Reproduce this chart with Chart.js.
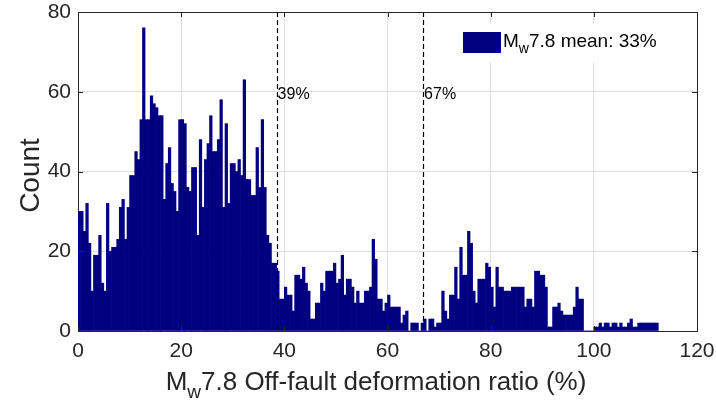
<!DOCTYPE html>
<html>
<head>
<meta charset="utf-8">
<script src="https://cdn.jsdelivr.net/npm/chart.js@4.4.0/dist/chart.umd.min.js"></script>
<style>
  html, body { margin: 0; padding: 0; background: #fff; }
  #wrap { width: 716px; height: 401px; }
</style>
</head>
<body>
<div id="wrap"><canvas id="histChart" width="716" height="401"></canvas></div>
<script>
// histogram of off-fault deformation ratio, 0.5 % bins starting at 0
const binWidth = 0.5;
const binCounts = [
  30, 30, 25, 32, 22, 10, 19, 19, 24, 12,
  10, 32, 20, 21, 21, 23, 31, 33, 23, 31,
  39, 39, 45, 43, 53, 76, 53, 53, 59, 57,
  56, 54, 54, 33, 42, 46, 37, 35, 30, 53,
  53, 52, 36, 35, 41, 41, 24, 48, 31, 43,
  47, 54, 45, 45, 48, 58, 31, 52, 32, 42,
  42, 40, 43, 39, 63, 38, 38, 34, 34, 46,
  36, 53, 36, 24, 22, 17, 17, 15, 8, 8,
  11, 9, 9, 5, 14, 14, 13, 16, 12, 10,
  3, 3, 7, 7, 12, 10, 15, 15, 15, 17,
  12, 13, 19, 9, 13, 13, 11, 7, 10, 7,
  7, 10, 10, 11, 23, 18, 8, 8, 5, 7,
  9, 6, 6, 6, 6, 2, 4, 5, 0, 2,
  2, 2, 0, 2, 3, 0, 3, 3, 1, 2,
  2, 10, 5, 3, 9, 9, 16, 8, 21, 14,
  14, 25, 22, 10, 7, 13, 13, 13, 17, 16,
  11, 6, 16, 11, 11, 10, 10, 10, 11, 11,
  11, 11, 11, 6, 8, 8, 6, 15, 15, 14,
  14, 11, 1, 1, 6, 6, 7, 5, 4, 4,
  4, 4, 6, 11, 8, 8, 0, 0, 0, 0,
  1, 1, 2, 1, 2, 2, 1, 2, 2, 1,
  2, 1, 1, 2, 3, 1, 1, 2, 2, 2,
  2, 2, 2, 2, 2
];
const xTicks = [0, 20, 40, 60, 80, 100, 120];
const yTicks = [0, 20, 40, 60, 80];
const markerValues = [38.5, 66.9];
const meanValue = 33;

const barColor = '#000080';
const axisColor = '#262626';
const gridColor = '#dfdfdf';
const fontFamily = "'Liberation Sans', Arial, Helvetica, sans-serif";

const binCenters = binCounts.map((_, i) => (i + 0.5) * binWidth);
const points = binCenters.map((x, i) => ({ x: x, y: binCounts[i] }));

// draws a run of text pieces, pieces marked sub are lowered and shrunk
function drawRichText(ctx, parts, x, y, size, align) {
  const subSize = Math.round(size * 0.72);
  let total = 0;
  parts.forEach(p => {
    ctx.font = (p.sub ? subSize : size) + 'px ' + fontFamily;
    p.w = ctx.measureText(p.t).width;
    total += p.w;
  });
  let cx = align === 'center' ? x - total / 2 : x;
  ctx.textAlign = 'left';
  ctx.textBaseline = 'alphabetic';
  parts.forEach(p => {
    ctx.font = (p.sub ? subSize : size) + 'px ' + fontFamily;
    ctx.fillText(p.t, cx, p.sub ? y + size * 0.32 : y);
    cx += p.w;
  });
  return total;
}

const decorPlugin = {
  id: 'decor',
  afterDatasetsDraw(chart) {
    const { ctx, scales: { x, y } } = chart;
    ctx.save();
    // percentile markers
    ctx.strokeStyle = '#000';
    ctx.lineWidth = 1.2;
    ctx.setLineDash([5, 3]);
    markerValues.forEach(v => {
      const px = Math.round(x.getPixelForValue(v)) + 0.5;
      ctx.beginPath();
      ctx.moveTo(px, y.getPixelForValue(80));
      ctx.lineTo(px, y.getPixelForValue(0));
      ctx.stroke();
    });
    ctx.setLineDash([]);
    ctx.fillStyle = '#000';
    ctx.font = '16px ' + fontFamily;
    ctx.textAlign = 'left';
    ctx.textBaseline = 'middle';
    markerValues.forEach(v => {
      ctx.fillText(Math.round(v) + '%', x.getPixelForValue(v) + 1, y.getPixelForValue(59.3));
    });
    ctx.restore();
  },
  afterDraw(chart) {
    const { ctx, chartArea: a, scales: { x, y } } = chart;
    ctx.save();
    // box on the top and right sides
    ctx.strokeStyle = axisColor;
    ctx.lineWidth = 1;
    ctx.beginPath();
    ctx.moveTo(a.left, a.top + 0.5);
    ctx.lineTo(a.right + 0.5, a.top + 0.5);
    ctx.lineTo(a.right + 0.5, a.bottom);
    ctx.stroke();
    // inward tick marks on all four sides
    const tl = 5;
    ctx.beginPath();
    xTicks.forEach(v => {
      const px = Math.round(x.getPixelForValue(v)) + 0.5;
      ctx.moveTo(px, a.bottom); ctx.lineTo(px, a.bottom - tl);
      ctx.moveTo(px, a.top); ctx.lineTo(px, a.top + tl);
    });
    yTicks.forEach(v => {
      const py = Math.round(y.getPixelForValue(v)) + 0.5;
      ctx.moveTo(a.left, py); ctx.lineTo(a.left + tl, py);
      ctx.moveTo(a.right, py); ctx.lineTo(a.right - tl, py);
    });
    ctx.stroke();

    // legend
    ctx.fillStyle = '#fff';
    ctx.fillRect(455, 24, 212, 38);
    ctx.fillStyle = barColor;
    ctx.fillRect(463, 32, 38, 21);
    ctx.fillStyle = '#000';
    drawRichText(ctx, [{ t: 'M' }, { t: 'w', sub: true }, { t: '7.8 mean: ' + meanValue + '%' }],
      503, 47, 19, 'left');

    // axis titles
    ctx.fillStyle = axisColor;
    drawRichText(ctx, [{ t: 'M' }, { t: 'w', sub: true }, { t: '7.8 Off-fault deformation ratio (%)' }],
      376, 390, 26, 'center');
    ctx.translate(31, (a.top + a.bottom) / 2 + 4);
    ctx.rotate(-Math.PI / 2);
    ctx.font = '28px ' + fontFamily;
    ctx.textAlign = 'center';
    ctx.textBaseline = 'middle';
    ctx.fillText('Count', 0, 0);
    ctx.restore();
  }
};

new Chart(document.getElementById('histChart').getContext('2d'), {
  type: 'bar',
  data: {
    datasets: [{
      label: 'Mw7.8 mean',
      data: points,
      backgroundColor: barColor,
      borderWidth: 0,
      barPercentage: 1,
      categoryPercentage: 1
    }]
  },
  options: {
    responsive: false,
    animation: false,
    devicePixelRatio: 1,
    layout: { padding: { left: 0, right: 19, top: 12, bottom: 0 } },
    plugins: {
      legend: { display: false },
      tooltip: { enabled: false }
    },
    scales: {
      x: {
        type: 'linear',
        min: 0,
        max: 120,
        offset: false,
        afterBuildTicks(scale) { scale.ticks = xTicks.map(v => ({ value: v })); },
        ticks: { color: axisColor, font: { size: 21, family: fontFamily }, padding: 8, maxRotation: 0 },
        grid: { color: gridColor, drawTicks: false, offset: false },
        border: { color: axisColor, width: 1 },
        afterFit(scale) { scale.height = 70; scale.paddingLeft = 0; scale.paddingRight = 0; }
      },
      y: {
        min: 0,
        max: 80,
        afterBuildTicks(scale) { scale.ticks = yTicks.map(v => ({ value: v })); },
        ticks: { color: axisColor, font: { size: 21, family: fontFamily }, padding: 7 },
        grid: { color: gridColor, drawTicks: false },
        border: { color: axisColor, width: 1 },
        afterFit(scale) { scale.width = 78; scale.paddingTop = 0; scale.paddingBottom = 0; }
      }
    }
  },
  plugins: [decorPlugin]
});
</script>
</body>
</html>
